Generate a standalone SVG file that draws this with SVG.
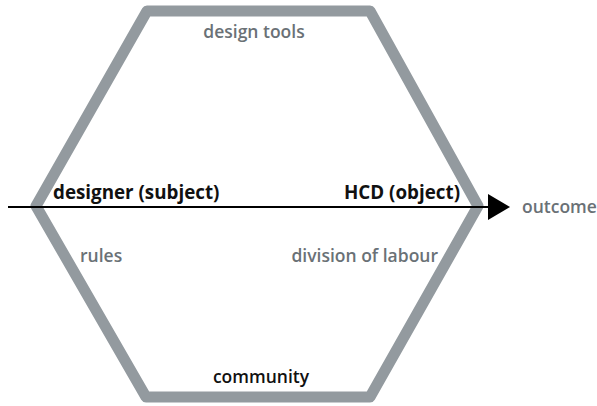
<svg xmlns="http://www.w3.org/2000/svg" width="597" height="406" viewBox="0 0 597 406">
  <style>
    .frame { fill: none; stroke: #939a9f; stroke-width: 11; stroke-linejoin: round; }
    .lbl { font-family: "Open Sans", "Liberation Sans", sans-serif; font-size: 17.5px; font-weight: 600; }
    .big { font-size: 18.8px; font-weight: 700; }
    .grey { fill: #6a7176; }
    .dark { fill: #111111; }
    .axis { stroke: #000000; stroke-width: 2; fill: none; }
  </style>
  <defs>
    <marker id="head" viewBox="0 0 22 26" refX="0" refY="13" markerWidth="22" markerHeight="26" markerUnits="userSpaceOnUse" orient="auto">
      <path d="M0,0 L22,13 L0,26 Z" fill="#000000"/>
    </marker>
  </defs>
  <rect width="597" height="406" fill="#ffffff"/>
  <g id="activity-frame">
    <path class="frame" d="M147,11 L370,11 L478,206 L370,397 L146,397 L36,206 Z"/>
  </g>
  <g id="connectors">
    <path class="axis" d="M8,207 L488,207" marker-end="url(#head)"/>
  </g>
  <g id="tools"><text class="lbl grey" x="254" y="38" text-anchor="middle">design tools</text></g>
  <g id="subject"><text class="lbl big dark" x="53" y="199">designer (subject)</text></g>
  <g id="object"><text class="lbl big dark" x="460" y="199" text-anchor="end">HCD (object)</text></g>
  <g id="outcome"><text class="lbl grey" x="522" y="213" font-weight="500">outcome</text></g>
  <g id="rules"><text class="lbl grey" x="80" y="262">rules</text></g>
  <g id="division"><text class="lbl grey" x="438" y="262" text-anchor="end">division of labour</text></g>
  <g id="community"><text class="lbl dark" x="261" y="383" text-anchor="middle">community</text></g>
</svg>
